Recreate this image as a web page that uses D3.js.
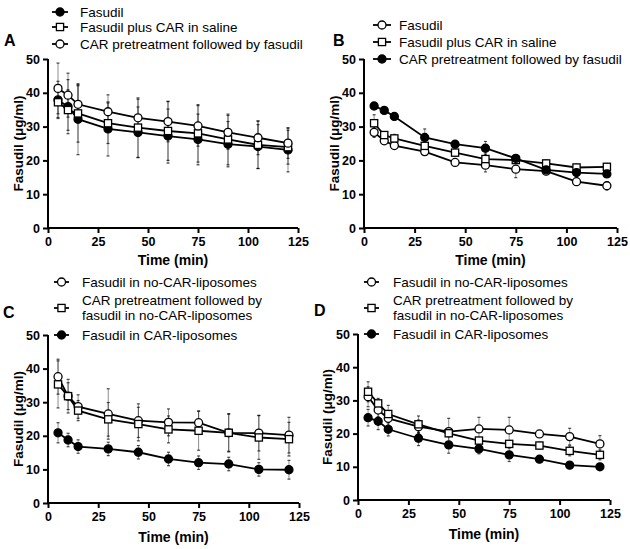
<!DOCTYPE html>
<html><head><meta charset="utf-8">
<script src="https://cdn.jsdelivr.net/npm/d3@7"></script>
<style>body{margin:0;background:#fff}svg{display:block}text{font-family:"Liberation Sans",Arial,sans-serif;fill:#000}</style>
</head><body>
<script>
const times = [5,10,15,30,45,60,75,90,105,120];
const xTicks = [0,25,50,75,100,125];
const yTicks = [0,10,20,30,40,50];

// Panel A
const A_names = ["Fasudil","Fasudil plus CAR in saline","CAR pretreatment followed by fasudil"];
const A_fasudil = [37.9,35.9,32.2,29.3,28.3,27.2,26.2,24.8,24.1,23.1];
const A_fasudil_sd = [5.5,8,10.5,8,7.5,8,7.5,6.7,6.5,6.5];
const A_plusCAR = [37.2,34.9,33.9,31.0,29.7,28.7,28.0,26.2,24.6,23.9];
const A_plusCAR_sd = [4.5,6,8.5,6,8.8,8.7,8.5,7.5,7,5];
const A_pre = [41.3,39.3,36.6,34.4,32.6,31.5,30.2,28.3,26.7,25.1];
const A_pre_sd = [7.5,6.5,5.5,5,5.5,6,6,5,5,4.5];

// Panel B
const B_names = ["Fasudil","Fasudil plus CAR in saline","CAR pretreatment followed by fasudil"];
const B_fasudil = [28.3,25.8,24.4,22.6,19.4,18.6,17.4,16.8,13.7,12.5];
const B_fasudil_sd = [1.5,1,1,1,1,2,2.5,1,1,1.2];
const B_plusCAR = [31.0,27.5,26.5,24.3,22.3,20.4,20.1,19.1,17.9,18.1];
const B_plusCAR_sd = [2.5,1,1.2,1,1,1.5,1,1,1,1];
const B_pre = [36.1,34.8,33.0,26.8,24.8,23.6,20.6,17.2,16.4,16.0];
const B_pre_sd = [1,1,1,2.5,1,2,1,1,1,1];

// Panel C
const C_names = ["Fasudil in no-CAR-liposomes",["CAR pretreatment followed by","fasudil in no-CAR-liposomes"],"Fasudil in CAR-liposomes"];
const C_noCAR = [37.6,31.8,28.7,26.5,24.5,24.0,23.9,20.9,20.8,20.2];
const C_noCAR_sd = [5.2,5,3.5,7.5,5,4,3.5,5.7,5.3,5.3];
const C_preNoCAR = [35.3,31.8,27.5,24.9,23.5,21.9,21.5,20.9,19.5,19.0];
const C_preNoCAR_sd = [7,4,3,5,5,4,5.8,5.5,6.5,5];
const C_CARlipo = [20.9,18.75,16.8,16.1,15.1,13.1,12.0,11.6,10.0,9.9];
const C_CARlipo_sd = [3,2,2,2,2,2,2,2,2,2.8];

// Panel D
const D_names = C_names;
const D_noCAR = [31.1,27.1,24.6,22.1,20.6,21.4,21.1,19.9,19.1,16.9];
const D_noCAR_sd = [3,2,2,2,4,3.5,3.8,1,2.5,2.5];
const D_preNoCAR = [32.6,29.1,25.9,22.8,20.1,17.9,16.9,16.4,14.8,13.6];
const D_preNoCAR_sd = [3,1.5,2.6,2.5,1,1,1,1,1.5,1.5];
const D_CARlipo = [24.8,23.7,21.3,18.6,16.6,15.4,13.6,12.3,10.5,10.0];
const D_CARlipo_sd = [2.5,2.5,2,2.2,2.5,1.5,2,1,1,1];

const panels = [
  {label:"A", lx:4, ly:46, box:{l:48,r:298,t:59,b:228}, titleX:18, xTitleY:265,
   leg:{sx:52, sw:16, tx:80, rows:[12,27,44]},
   series:[
     {name:A_names[0], v:A_fasudil, sd:A_fasudil_sd, m:"fcircle"},
     {name:A_names[1], v:A_plusCAR, sd:A_plusCAR_sd, m:"square"},
     {name:A_names[2], v:A_pre, sd:A_pre_sd, m:"circle"}]},
  {label:"B", lx:333, ly:46, box:{l:364,r:617,t:59,b:228}, titleX:334, xTitleY:265,
   leg:{sx:373, sw:18, tx:399, rows:[25,42,59]},
   series:[
     {name:B_names[0], v:B_fasudil, sd:B_fasudil_sd, m:"circle"},
     {name:B_names[1], v:B_plusCAR, sd:B_plusCAR_sd, m:"square"},
     {name:B_names[2], v:B_pre, sd:B_pre_sd, m:"fcircle"}]},
  {label:"C", lx:3, ly:318, box:{l:48,r:299,t:335,b:503}, titleX:18, xTitleY:542,
   leg:{sx:54, sw:15, tx:82, rows:[282,308,335], sub:[300,315]},
   series:[
     {name:C_names[0], v:C_noCAR, sd:C_noCAR_sd, m:"circle"},
     {name:C_names[1], v:C_preNoCAR, sd:C_preNoCAR_sd, m:"square"},
     {name:C_names[2], v:C_CARlipo, sd:C_CARlipo_sd, m:"fcircle"}]},
  {label:"D", lx:314, ly:316, box:{l:358,r:610,t:334,b:500}, titleX:327, xTitleY:539,
   leg:{sx:364, sw:15, tx:393, rows:[282,308,334], sub:[300,315]},
   series:[
     {name:D_names[0], v:D_noCAR, sd:D_noCAR_sd, m:"circle"},
     {name:D_names[1], v:D_preNoCAR, sd:D_preNoCAR_sd, m:"square"},
     {name:D_names[2], v:D_CARlipo, sd:D_CARlipo_sd, m:"fcircle"}]}
];

const svg = d3.select("body").append("svg").attr("width",630).attr("height",549);
svg.append("rect").attr("width",630).attr("height",549).attr("fill","#fff");

function marker(g, type, x, y, r){
  if(type==="square"){
    g.append("rect").attr("x",x-r).attr("y",y-r).attr("width",2*r).attr("height",2*r)
      .attr("fill","#fff").attr("stroke","#000").attr("stroke-width",1.3);
  } else {
    g.append("circle").attr("cx",x).attr("cy",y).attr("r",r)
      .attr("fill", type==="fcircle" ? "#000" : "#fff").attr("stroke","#000").attr("stroke-width",1.3);
  }
}

panels.forEach(p => {
  const b = p.box;
  const x = d3.scaleLinear().domain([0,125]).range([b.l,b.r]);
  const y = d3.scaleLinear().domain([0,50]).range([b.b,b.t]);
  const g = svg.append("g");

  // error bars
  p.series.forEach(s => {
    const eg = g.append("g");
    s.v.forEach((v,i) => {
      const xx = x(times[i]);
      eg.append("line").attr("x1",xx).attr("x2",xx).attr("y1",y(v+s.sd[i])).attr("y2",y(v-s.sd[i]))
        .attr("stroke","#000").attr("stroke-opacity",0.45).attr("stroke-width",1);
      [v+s.sd[i], v-s.sd[i]].forEach(e => {
        eg.append("line").attr("x1",xx-1.5).attr("x2",xx+1.5).attr("y1",y(e)).attr("y2",y(e))
          .attr("stroke","#000").attr("stroke-opacity",0.7).attr("stroke-width",1.2);
      });
    });
  });

  // axes
  const xa = g.append("g").attr("transform",`translate(0,${b.b})`)
    .call(d3.axisBottom(x).tickValues(xTicks).tickSize(5).tickPadding(4));
  const ya = g.append("g").attr("transform",`translate(${b.l},0)`)
    .call(d3.axisLeft(y).tickValues(yTicks).tickSize(5).tickPadding(3));
  [xa,ya].forEach(a => {
    a.select(".domain").attr("stroke","#000").attr("stroke-width",2);
    a.selectAll(".tick line").attr("stroke","#000").attr("stroke-width",2);
    a.selectAll(".tick text").attr("font-size",12.5).attr("font-weight","bold")
      .attr("font-family","'Liberation Sans',Arial,sans-serif").attr("fill","#000");
  });
  xa.select(".domain").attr("d",`M${b.l},0H${b.r}`);
  ya.select(".domain").attr("d",`M0,${b.b}V${b.t}`);

  // axis titles
  g.append("text").attr("x",(b.l+b.r)/2).attr("y",p.xTitleY).attr("text-anchor","middle")
    .attr("font-size",14).attr("font-weight","bold").text("Time (min)");
  g.append("text").attr("transform",`translate(${p.titleX},${(b.t+b.b)/2}) rotate(-90)`)
    .attr("text-anchor","middle").attr("dy","0.35em")
    .attr("font-size",13.5).attr("font-weight","bold").text("Fasudil (μg/ml)");

  // panel label
  g.append("text").attr("x",p.lx).attr("y",p.ly).attr("font-size",16).attr("font-weight","bold").text(p.label);

  // lines and markers
  const line = d3.line().x((d,i)=>x(times[i])).y(d=>y(d));
  p.series.forEach(s => {
    g.append("path").datum(s.v).attr("d",line).attr("fill","none").attr("stroke","#000").attr("stroke-width",1.8);
  });
  p.series.forEach(s => {
    const mg = g.append("g");
    s.v.forEach((v,i) => marker(mg, s.m, x(times[i]), y(v), s.m==="square"?3.6:4));
  });

  // legend
  p.series.forEach((s,k) => {
    const ry = p.leg.rows[k];
    g.append("line").attr("x1",p.leg.sx).attr("x2",p.leg.sx+p.leg.sw).attr("y1",ry).attr("y2",ry)
      .attr("stroke","#000").attr("stroke-width",1.8);
    marker(g, s.m, p.leg.sx+p.leg.sw/2, ry, s.m==="square"?3.6:4);
    if(Array.isArray(s.name)){
      s.name.forEach((t,j) => {
        g.append("text").attr("x",p.leg.tx).attr("y",p.leg.sub[j]).attr("dy","0.35em")
          .attr("font-size",13.5).text(t);
      });
    } else {
      g.append("text").attr("x",p.leg.tx).attr("y",ry).attr("dy","0.35em").attr("font-size",13.5).text(s.name);
    }
  });
});
</script>
</body></html>
